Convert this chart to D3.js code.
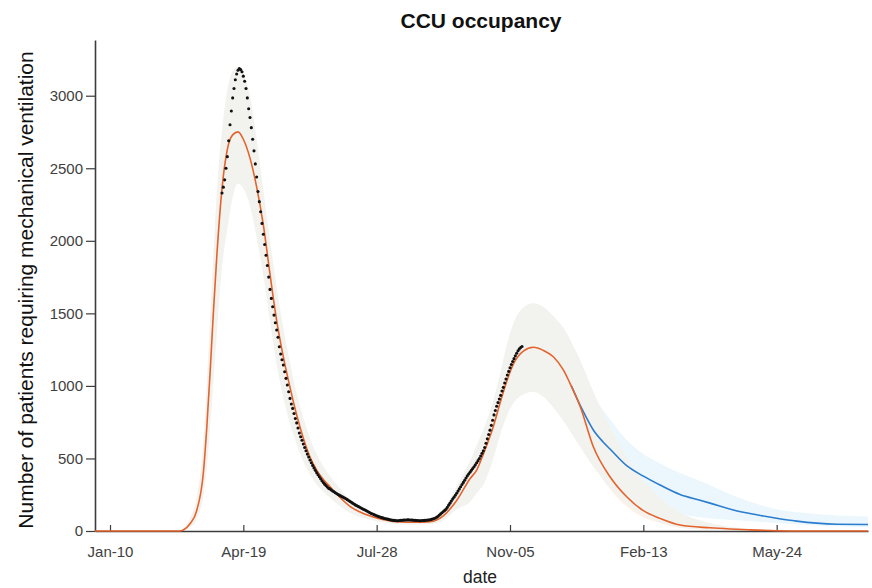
<!DOCTYPE html>
<html><head><meta charset="utf-8">
<script src="https://cdn.jsdelivr.net/npm/d3@7/dist/d3.min.js"></script>
<style>
body{margin:0;background:#fff}
svg{display:block}
text{font-family:"Liberation Sans",Arial,Helvetica,sans-serif}
</style>
</head><body>
<svg id="chart" width="872" height="588"></svg>
<script>
// ---- DATA (day offsets from Jan-10 2020) ----
const tickDays = [0, 100, 200, 300, 400, 500];
const tickLabels = ["Jan-10", "Apr-19", "Jul-28", "Nov-05", "Feb-13", "May-24"];
const yTicks = [0, 500, 1000, 1500, 2000, 2500, 3000];

// model fit (orange) with grey confidence band
const modelDays  = [-12, 40, 52, 55, 60, 65, 70, 72.5, 75, 77.5, 80, 84, 88, 92, 96, 100, 105, 110, 115, 120, 125, 130, 135, 140, 145, 150, 155, 160, 165, 170, 180, 190, 200, 215, 230, 240, 250, 260, 270, 275, 280, 287.5, 292.5, 297.5, 302.5, 310, 317.5, 325, 332.5, 340, 345, 352.5, 362.5, 375, 387.5, 400, 412.5, 427.5, 450, 465, 480, 500, 520, 570];
const modelMean  = [0, 0, 0, 7, 50, 140, 400, 700, 1080, 1500, 1880, 2360, 2630, 2730, 2751, 2700, 2570, 2370, 2110, 1770, 1450, 1200, 990, 800, 640, 510, 420, 355, 305, 255, 170, 120, 90, 64, 60, 64, 105, 210, 360, 420, 530, 720, 880, 1030, 1150, 1240, 1266, 1245, 1201, 1110, 1018, 862, 581, 374, 236, 140, 87, 41, 22, 14, 8, 2, 0, 0];
const modelUpper = [0, 0, 2, 15, 90, 230, 620, 1000, 1450, 1900, 2320, 2760, 3040, 3170, 3200, 3150, 3000, 2700, 2350, 2000, 1680, 1400, 1160, 950, 780, 640, 530, 445, 380, 320, 215, 155, 118, 85, 80, 86, 145, 310, 480, 590, 700, 900, 1080, 1280, 1430, 1540, 1570, 1545, 1480, 1400, 1320, 1180, 960, 720, 510, 350, 230, 130, 55, 30, 15, 6, 2, 0];
const modelLower = [0, 0, 0, 3, 25, 80, 240, 420, 700, 1020, 1350, 1820, 2080, 2300, 2395, 2360, 2240, 2020, 1760, 1450, 1150, 920, 740, 600, 480, 390, 320, 270, 230, 190, 125, 90, 68, 48, 44, 47, 72, 150, 200, 260, 320, 500, 660, 790, 880, 940, 960, 925, 850, 760, 690, 580, 443, 300, 190, 110, 60, 25, 8, 5, 2, 0, 0, 0];

// light orange tail band
const tailDays  = [335, 345, 352.5, 362.5, 375, 387.5, 400, 412.5, 427.5, 450, 480, 520];
const tailUpper = [1200, 1100, 980, 760, 520, 360, 240, 160, 90, 40, 12, 2];
const tailLower = [1050, 900, 720, 470, 290, 170, 95, 55, 22, 8, 2, 0];

// forecast (blue) and its band
const forecastDays = [346, 350, 355, 362.5, 370, 375, 387.5, 400, 412.5, 427.5, 442.5, 450, 467.5, 485, 500, 515, 530, 545, 570];
const forecastMean = [1000, 918, 822, 696, 612, 565, 450, 378, 317, 252, 212, 192, 145, 112, 88, 68, 54, 47, 45];
const bandDays  = [335, 346, 355, 362.5, 375, 387.5, 400, 412.5, 427.5, 442.5, 467.5, 500, 530, 570];
const bandUpper = [1250, 1150, 1020, 925, 770, 627, 530, 466, 400, 345, 245, 150, 118, 100];
const bandLower = [1150, 900, 700, 560, 400, 280, 200, 150, 115, 95, 75, 55, 38, 25];

// observed daily occupancy (black dots), first day = 84
const obsStartDay = 84;
const observed = [
 2330, 2370, 2420, 2500, 2580, 2690, 2800, 2895, 2985, 3050,
 3110, 3150, 3175, 3188, 3180, 3165, 3135, 3100, 3050, 2985,
 2910, 2850, 2780, 2700, 2620, 2530, 2440, 2340, 2270, 2200,
 2120, 2045, 1975, 1900, 1830, 1750, 1665, 1603, 1546, 1488,
 1435, 1385, 1335, 1270, 1220, 1180, 1144, 1098, 1052, 1006,
 960, 914, 875, 845, 810, 775, 745, 710, 675, 650,
 625, 600, 575, 553, 530, 510, 489, 470, 452, 435,
 418, 402, 388, 374, 360, 346, 334, 323, 313, 303,
 294, 290, 283, 276, 270, 264, 258, 252, 247, 242,
 237, 232, 227, 222, 216, 210, 204, 198, 192, 186,
 180, 175, 170, 165, 160, 155, 150, 146, 141, 136,
 131, 126, 121, 117, 113, 109, 105, 101, 98, 95,
 92, 89, 86, 84, 82, 80, 78, 76, 74, 73,
 72, 71, 71, 72, 73, 74, 75, 76, 76, 77,
 77, 76, 76, 75, 74, 73, 72, 72, 71, 71,
 72, 72, 73, 74, 75, 76, 78, 80, 83, 86,
 90, 95, 102, 110, 118, 126, 134, 142, 150, 163,
 178, 192, 206, 220, 233, 246, 260, 275, 290, 305,
 320, 335, 350, 365, 380, 393, 405, 418, 430, 443,
 456, 470, 485, 500, 517, 535, 553, 575, 605, 635,
 665, 695, 728, 763, 800, 830, 860, 885, 910, 935,
 965, 990, 1020, 1048, 1075, 1100, 1125, 1148, 1168, 1188,
 1207, 1225, 1242, 1255, 1265, 1272
];

// ---- CHART ----
const svg = d3.select("#chart");
const x = d3.scaleLinear().domain([-11.25, 568.5]).range([95, 868]);
const y = d3.scaleLinear().domain([0, 3384]).range([531, 40]);

svg.append("defs").append("clipPath").attr("id", "clip")
  .append("rect").attr("x", 95).attr("y", 0).attr("width", 868 - 95).attr("height", 532);

const g = svg.append("g").attr("clip-path", "url(#clip)");

const zipBand = (days, lo, hi) => days.map((d, i) => ({d, lo: lo[i], hi: hi[i]}));
const zipLine = (days, v) => days.map((d, i) => ({d, v: v[i]}));

const area = d3.area().curve(d3.curveMonotoneX)
  .x(p => x(p.d)).y0(p => y(p.lo)).y1(p => y(p.hi));
const line = d3.line().curve(d3.curveMonotoneX)
  .x(p => x(p.d)).y(p => y(p.v));

// bands
g.append("path").datum(zipBand(tailDays, tailLower, tailUpper))
  .attr("d", area).attr("fill", "#fdf0e6");
g.append("path").datum(zipBand(bandDays, bandLower, bandUpper))
  .attr("d", area).attr("fill", "#ebf7fc");
g.append("path").datum(zipBand(modelDays, modelLower, modelUpper))
  .attr("d", area).attr("fill", "#f2f3ef");

// axes
const axisColor = "#3c3c3c";
const yAxis = svg.append("g").attr("transform", "translate(95,0)")
  .call(d3.axisLeft(y).tickValues(yTicks).tickFormat(d3.format("d"))
        .tickSize(9).tickSizeOuter(0).tickPadding(3));
const xAxis = svg.append("g").attr("transform", "translate(0,531)")
  .call(d3.axisBottom(x).tickValues(tickDays).tickFormat((d, i) => tickLabels[i])
        .tickSizeInner(-6).tickSizeOuter(0).tickPadding(15));
[yAxis, xAxis].forEach(a => {
  a.select(".domain").attr("stroke", axisColor).attr("stroke-width", 1.6);
  a.selectAll(".tick line").attr("stroke", axisColor).attr("stroke-width", 1.2);
  a.selectAll(".tick text").attr("fill", "#404040").style("font-size", "15px")
    .style("font-family", "'Liberation Sans', Arial, sans-serif");
});

// lines
const g2 = svg.append("g").attr("clip-path", "url(#clip)");
g2.append("path").datum(zipLine(forecastDays, forecastMean))
  .attr("d", line).attr("fill", "none").attr("stroke", "#2a7ccf").attr("stroke-width", 1.6);
g2.append("path").datum(zipLine(modelDays, modelMean))
  .attr("d", line).attr("fill", "none").attr("stroke", "#e4632d").attr("stroke-width", 1.6);

// observed dots
g2.selectAll("circle.obs").data(observed).enter().append("circle")
  .attr("class", "obs")
  .attr("cx", (v, i) => x(obsStartDay + i))
  .attr("cy", v => y(v))
  .attr("r", 1.55)
  .attr("fill", "#111");

// titles
svg.append("text").attr("x", 481).attr("y", 28).attr("text-anchor", "middle")
  .style("font-size", "21px").style("font-weight", "bold").attr("fill", "#111")
  .text("CCU occupancy");
svg.append("text").attr("x", 480).attr("y", 583).attr("text-anchor", "middle")
  .style("font-size", "17.5px").attr("fill", "#222").text("date");
svg.append("text").attr("transform", "translate(33,290) rotate(-90)")
  .attr("text-anchor", "middle").style("font-size", "21px").attr("fill", "#111")
  .text("Number of patients requiring mechanical ventilation");
</script>
</body></html>
